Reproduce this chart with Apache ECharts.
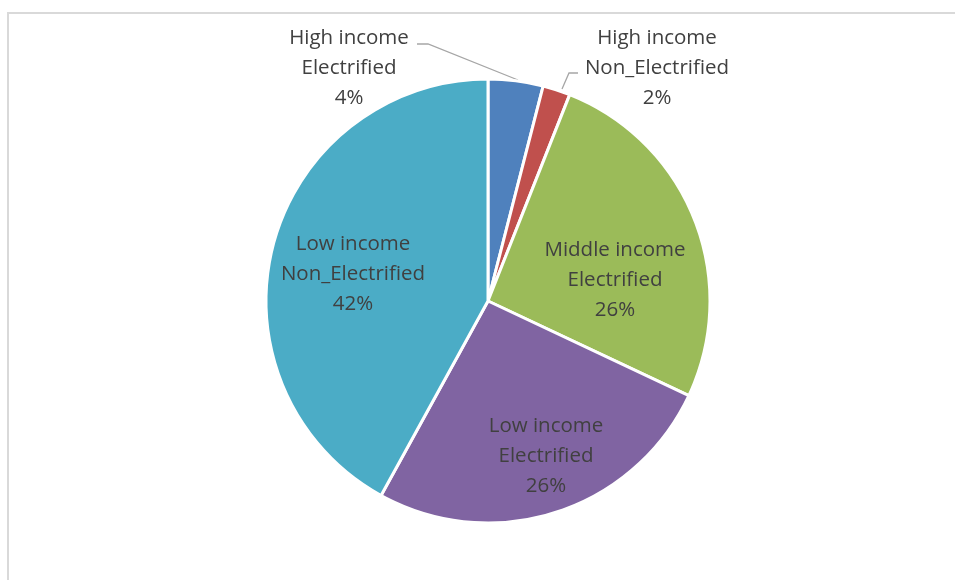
<!DOCTYPE html>
<html>
<head>
<meta charset="utf-8">
<script src="https://cdn.jsdelivr.net/npm/echarts@6/dist/echarts.min.js"></script>
<style>
  html, body { margin: 0; padding: 0; background: #fff; }
  #chart { width: 955px; height: 580px; }
</style>
</head>
<body>
<div id="chart"></div>
<script>
// Household groups and their shares (percent)
const categories = [
  'High income\nElectrified',
  'High income\nNon_Electrified',
  'Middle income\nElectrified',
  'Low income\nElectrified',
  'Low income\nNon_Electrified'
];
const shares = [4, 2, 26, 26, 42];

const palette = ['#4F81BD', '#C0504D', '#9BBB59', '#8064A2', '#4BACC6'];

// Pie geometry
const CX = 488, CY = 301, R = 222;

// Label anchor per slice: text centre and optional leader polyline
const labelPlacement = [
  { x: 349, y: 68, leader: [[518, 80], [428, 44], [417, 44]] },
  { x: 657, y: 68, leader: [[562, 89], [569, 73], [578, 73]] },
  { x: 615, y: 280 },
  { x: 546, y: 456 },
  { x: 353, y: 274 }
];

const chart = echarts.init(document.getElementById('chart'));

chart.setOption({
  animation: false,
  backgroundColor: '#ffffff',
  graphic: [{
    type: 'polyline',
    shape: { points: [[8, 600], [8, 13], [960, 13]] },
    style: { fill: 'none', stroke: '#D9D9D9', lineWidth: 2 },
    silent: true
  }],
  series: [{
    type: 'pie',
    center: [CX, CY],
    radius: R,
    startAngle: 90,
    clockwise: true,
    avoidLabelOverlap: false,
    data: categories.map((name, i) => ({
      name: name,
      value: shares[i],
      itemStyle: { color: palette[i] },
      labelLine: { show: !!labelPlacement[i].leader }
    })),
    itemStyle: { borderColor: '#ffffff', borderWidth: 3 },
    label: {
      show: true,
      position: 'outside',
      formatter: p => p.name + '\n' + Math.round(p.percent) + '%',
      fontFamily: '"Open Sans", "Liberation Sans", sans-serif',
      fontSize: 20.5,
      lineHeight: 30,
      color: '#404040',
      align: 'center'
    },
    labelLine: {
      show: true,
      lineStyle: { color: '#A6A6A6', width: 1.3 }
    },
    labelLayout: function (params) {
      const p = labelPlacement[params.dataIndex];
      const out = {
        x: p.x,
        y: p.y,
        align: 'center',
        verticalAlign: 'middle'
      };
      if (p.leader) out.labelLinePoints = p.leader;
      return out;
    }
  }]
});
</script>
</body>
</html>
